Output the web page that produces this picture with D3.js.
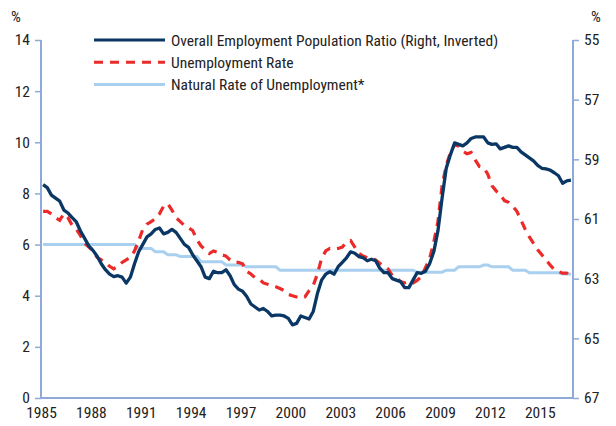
<!DOCTYPE html>
<html>
<head>
<meta charset="utf-8">
<script src="https://cdn.jsdelivr.net/npm/d3@7"></script>
<style>
  body { margin: 0; background: #fff; }
  svg text { font-family: "Liberation Sans Narrow", "Roboto Condensed", "Arial Narrow", "DejaVu Sans Condensed", sans-serif; fill: #222; }
</style>
</head>
<body>
<svg id="chart" width="616" height="426"></svg>
<script>
// Quarterly observations, 1985Q1 .. 2016Q4
const startYear = 1985;
const endYear = 2017;

// Unemployment rate (%), left axis
const unemploymentRate = [
  7.3, 7.3, 7.2, 7.05,
  6.95, 7.2, 7.05, 6.75,
  6.6, 6.35, 6.05, 5.9,
  5.75, 5.5, 5.4, 5.3,
  5.15, 5.05, 5.15, 5.3,
  5.4, 5.5, 5.75, 6.15,
  6.6, 6.8, 6.9, 7.0,
  7.2, 7.5, 7.6, 7.35,
  7.05, 6.9, 6.75, 6.65,
  6.55, 6.2, 5.95, 5.8,
  5.65, 5.75, 5.7, 5.6,
  5.55, 5.4, 5.3, 5.3,
  5.25, 4.95, 4.85, 4.7,
  4.65, 4.5, 4.45, 4.4,
  4.35, 4.28, 4.2, 4.05,
  4.0, 3.95, 3.9, 3.95,
  4.2, 4.4, 4.85, 5.45,
  5.75, 5.85, 5.82, 5.85,
  5.9, 6.1, 6.15, 5.9,
  5.65, 5.55, 5.48, 5.46,
  5.4, 5.27, 5.15, 5.05,
  4.8, 4.7, 4.55, 4.5,
  4.55, 4.5, 4.6, 4.75,
  5.1, 5.45, 6.1, 6.9,
  8.3, 9.1, 9.6, 9.9,
  9.85, 9.65, 9.55, 9.6,
  9.3, 9.05, 9.0, 8.75,
  8.3, 8.1, 7.95, 7.72,
  7.65, 7.5, 7.3, 6.95,
  6.6, 6.3, 6.05, 5.8,
  5.6, 5.4, 5.2, 5.02,
  4.95, 4.88, 4.88, 4.75
];

// Natural rate of unemployment (%), left axis
const naturalRate = [
  6.0, 6.0, 6.0, 6.0,
  6.0, 6.0, 6.0, 6.0,
  6.0, 6.0, 6.0, 6.0,
  6.0, 6.0, 6.0, 6.0,
  6.0, 6.0, 6.0, 6.0,
  6.0, 6.0, 6.0, 5.85,
  5.85, 5.85, 5.85, 5.72,
  5.72, 5.72, 5.6, 5.6,
  5.6, 5.53, 5.53, 5.53,
  5.53, 5.53, 5.33, 5.33,
  5.33, 5.33, 5.33, 5.33,
  5.2, 5.2, 5.2, 5.2,
  5.2, 5.13, 5.13, 5.13,
  5.13, 5.13, 5.13, 5.13,
  5.13, 5.0, 5.0, 5.0,
  5.0, 5.0, 5.0, 5.0,
  5.0, 5.0, 5.0, 5.0,
  5.0, 5.0, 5.0, 5.0,
  5.0, 5.0, 5.0, 5.0,
  5.0, 5.0, 5.0, 5.0,
  5.0, 5.0, 5.0, 5.0,
  5.0, 5.0, 5.0, 5.0,
  5.0, 5.0, 4.92, 4.92,
  4.92, 4.92, 4.92, 4.92,
  4.92, 5.0, 5.0, 5.0,
  5.13, 5.13, 5.13, 5.13,
  5.13, 5.13, 5.2, 5.2,
  5.13, 5.13, 5.13, 5.13,
  5.13, 5.0, 5.0, 5.0,
  5.0, 4.9, 4.9, 4.9,
  4.9, 4.9, 4.9, 4.9,
  4.9, 4.85, 4.85, 4.85
];

// Employment-population ratio (%), right axis (inverted)
const employmentRatio = [
  59.85, 59.95, 60.2, 60.3,
  60.4, 60.7, 60.8, 60.95,
  61.1, 61.4, 61.65, 61.9,
  62.05, 62.25, 62.5, 62.7,
  62.85, 62.93, 62.9, 62.95,
  63.15, 62.95, 62.5, 62.1,
  61.85, 61.6, 61.5, 61.35,
  61.3, 61.5, 61.45, 61.35,
  61.45, 61.65, 61.85, 61.95,
  62.2, 62.4, 62.6, 62.95,
  63.0, 62.75, 62.8, 62.8,
  62.7, 62.9, 63.2, 63.35,
  63.42, 63.6, 63.85, 63.95,
  64.05, 64.0, 64.1, 64.25,
  64.22, 64.22, 64.25, 64.33,
  64.55, 64.5, 64.25, 64.3,
  64.35, 64.1, 63.5, 63.05,
  62.85, 62.77, 62.85, 62.6,
  62.45, 62.3, 62.1, 62.15,
  62.26, 62.3, 62.4, 62.35,
  62.4, 62.65, 62.8, 62.8,
  63.0, 63.05, 63.1, 63.3,
  63.3, 63.05, 62.8, 62.82,
  62.75, 62.5, 62.1, 61.4,
  60.3, 59.3, 58.85, 58.45,
  58.5, 58.55, 58.45, 58.3,
  58.25, 58.25, 58.25, 58.45,
  58.5, 58.48, 58.65, 58.6,
  58.55, 58.6, 58.6, 58.75,
  58.85, 58.95, 59.05, 59.2,
  59.3, 59.32, 59.36, 59.45,
  59.55, 59.8, 59.72, 59.7
];

const xTickYears = [1985, 1988, 1991, 1994, 1997, 2000, 2003, 2006, 2009, 2012, 2015];
const leftTicks = [0, 2, 4, 6, 8, 10, 12, 14];
const rightTicks = [55, 57, 59, 61, 63, 65, 67];
const seriesNames = [
  "Overall Employment Population Ratio (Right, Inverted)",
  "Unemployment Rate",
  "Natural Rate of Unemployment*"
];

const colors = { emp: "#0a3764", unemp: "#ec2a2a", natural: "#a9d0ef", axis: "#8eaad8" };

const svg = d3.select("#chart");
const m = { left: 41, right: 573, top: 40, bottom: 398 };

const x = d3.scaleLinear().domain([startYear, endYear]).range([m.left, m.right]);
const yL = d3.scaleLinear().domain([0, 14]).range([m.bottom, m.top]);
const yR = d3.scaleLinear().domain([67, 55]).range([m.bottom, m.top]);

const tOf = i => startYear + i / 4 + 0.125;

// Axes
const fontSize = 15.5;
const leftAxis = d3.axisLeft(yL).tickValues(leftTicks).tickSize(6).tickPadding(5);
const gL = svg.append("g").attr("transform", `translate(${m.left},0)`).call(leftAxis);
const rightAxis = d3.axisRight(yR).tickValues(rightTicks).tickSize(6).tickPadding(5);
const gR = svg.append("g").attr("transform", `translate(${m.right},0)`).call(rightAxis);
const bottomAxis = d3.axisBottom(x).tickValues(xTickYears).tickFormat(d3.format("d")).tickSize(0).tickPadding(9);
const gB = svg.append("g").attr("transform", `translate(0,${m.bottom})`).call(bottomAxis);

[gL, gR, gB].forEach(g => {
  g.select(".domain").attr("stroke", colors.axis).attr("stroke-width", 2);
  g.selectAll(".tick line").attr("stroke", colors.axis).attr("stroke-width", 1.5);
  g.selectAll(".tick text").attr("font-size", fontSize).style("fill", "#222")
    .attr("font-family", null);
});
gL.select(".domain").attr("d", `M0,${m.top}H0V${m.bottom}`);
gR.select(".domain").attr("d", `M0,${m.top}H0V${m.bottom}`);
gB.select(".domain").attr("d", `M${m.left},0H${m.right}`);

svg.append("text").attr("x", 16).attr("y", 22).attr("text-anchor", "middle").attr("font-size", fontSize).text("%");
svg.append("text").attr("x", 596).attr("y", 22).attr("text-anchor", "middle").attr("font-size", fontSize).text("%");

// Lines
const lineL = d3.line().x((d, i) => x(tOf(i))).y(d => yL(d));
const lineR = d3.line().x((d, i) => x(tOf(i))).y(d => yR(d));

svg.append("path").datum(naturalRate).attr("d", lineL)
  .attr("fill", "none").attr("stroke", colors.natural).attr("stroke-width", 3);
svg.append("path").datum(unemploymentRate).attr("d", lineL)
  .attr("fill", "none").attr("stroke", colors.unemp).attr("stroke-width", 3.2)
  .attr("stroke-dasharray", "9,7");
svg.append("path").datum(employmentRatio).attr("d", lineR)
  .attr("fill", "none").attr("stroke", colors.emp).attr("stroke-width", 3.3)
  .attr("stroke-linejoin", "round");

// Legend
const legend = svg.append("g");
const legendItems = [
  { name: seriesNames[0], color: colors.emp, dash: null },
  { name: seriesNames[1], color: colors.unemp, dash: "9,7" },
  { name: seriesNames[2], color: colors.natural, dash: null }
];
legendItems.forEach((it, i) => {
  const yy = 40 + i * 22.3;
  legend.append("line").attr("x1", 94).attr("x2", 165).attr("y1", yy).attr("y2", yy)
    .attr("stroke", it.color).attr("stroke-width", 3).attr("stroke-dasharray", it.dash);
  legend.append("text").attr("x", 171).attr("y", yy + 5.5).attr("font-size", fontSize).text(it.name);
});
</script>
</body>
</html>
